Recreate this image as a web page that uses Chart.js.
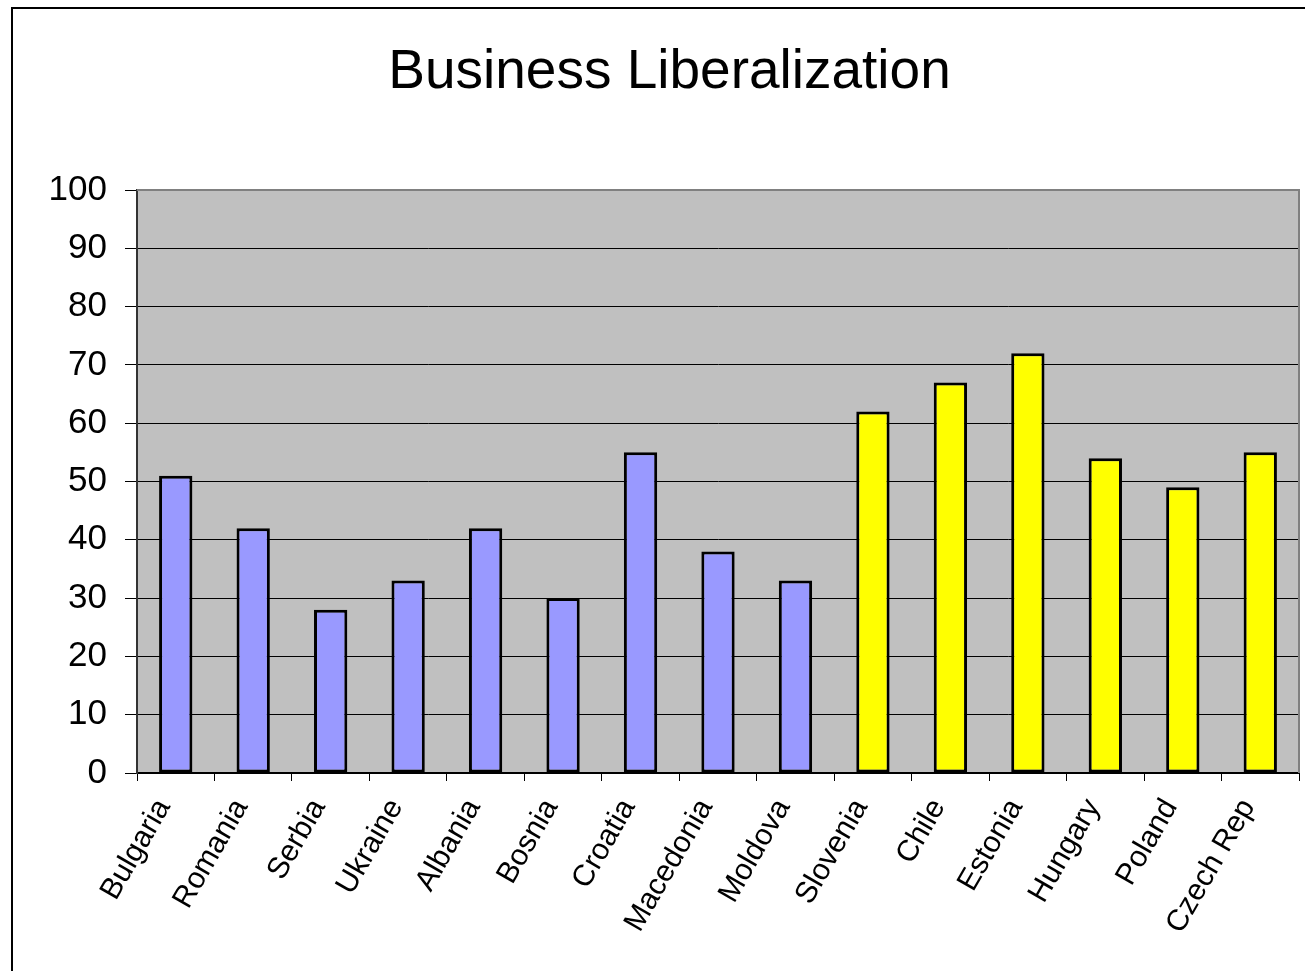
<!DOCTYPE html>
<html>
<head>
<meta charset="utf-8">
<title>Business Liberalization</title>
<script src="https://cdn.jsdelivr.net/npm/chart.js@4.4.1/dist/chart.umd.min.js"></script>
<style>
    html, body { margin: 0; padding: 0; background: #fff; }
    #wrap { width: 1305px; height: 971px; position: relative; }
</style>
</head>
<body>
<div id="wrap"><canvas id="liberalChart" width="1305" height="971"></canvas></div>
<script>
// transition countries (blue) and comparison countries (yellow)
const transitionCountries = ["Bulgaria", "Romania", "Serbia", "Ukraine", "Albania", "Bosnia", "Croatia", "Macedonia", "Moldova"];
const transitionScores = [51, 42, 28, 33, 42, 30, 55, 38, 33];

const comparisonCountries = ["Slovenia", "Chile", "Estonia", "Hungary", "Poland", "Czech Rep"];
const comparisonScores = [62, 67, 72, 54, 49, 55];

const yTicks = [0, 10, 20, 30, 40, 50, 60, 70, 80, 90, 100];

const labels = transitionCountries.concat(comparisonCountries);
const scores = transitionScores.concat(comparisonScores);
const barColors = labels.map((_, i) => i < transitionCountries.length ? "#9999FF" : "#FFFF00");

// gray plot area + outer frame
const plotBackground = {
    id: "plotBackground",
    beforeDraw(chart) {
        const { ctx, chartArea: a } = chart;
        ctx.save();
        ctx.fillStyle = "#fff";
        ctx.fillRect(0, 0, chart.width, chart.height);
        ctx.fillStyle = "#C0C0C0";
        ctx.fillRect(a.left, a.top, a.right - a.left, a.bottom - a.top);
        // frame of the slide
        ctx.strokeStyle = "#000";
        ctx.lineWidth = 2;
        ctx.beginPath();
        ctx.moveTo(12, chart.height);
        ctx.lineTo(12, 8);
        ctx.lineTo(chart.width, 8);
        ctx.stroke();
        ctx.restore();
    },
    afterDatasetsDraw(chart) {
        const { ctx, chartArea: a } = chart;
        ctx.save();
        ctx.strokeStyle = "#808080";
        ctx.lineWidth = 2;
        ctx.beginPath();
        ctx.moveTo(a.left, a.top);
        ctx.lineTo(a.right, a.top);
        ctx.lineTo(a.right, a.bottom);
        ctx.stroke();
        ctx.restore();
    }
};

const ctx = document.getElementById("liberalChart").getContext("2d");

new Chart(ctx, {
    type: "bar",
    data: {
        labels: labels,
        datasets: [{
            label: "Business Liberalization",
            data: scores,
            backgroundColor: barColors,
            borderColor: "#000",
            borderWidth: 3,
            borderSkipped: false,
            barPercentage: 0.43,
            categoryPercentage: 1.0
        }]
    },
    options: {
        responsive: false,
        animation: false,
        devicePixelRatio: 1,
        layout: { padding: { left: 40, right: 6, top: 0, bottom: 0 } },
        plugins: {
            legend: { display: false },
            tooltip: { enabled: false },
            title: {
                display: true,
                text: "Business Liberalization",
                color: "#000",
                font: { family: "'Liberation Sans', Arial, sans-serif", size: 55, weight: "normal" },
                padding: { top: 40, bottom: 84 }
            }
        },
        scales: {
            x: {
                offset: true,
                grid: {
                    offset: true,
                    drawOnChartArea: false,
                    drawTicks: true,
                    tickLength: 8,
                    color: "#000"
                },
                border: { display: true, color: "#000", width: 2 },
                ticks: {
                    color: "#000",
                    font: { family: "'Liberation Sans', Arial, sans-serif", size: 30 },
                    minRotation: 60,
                    maxRotation: 60,
                    padding: 12,
                    labelOffset: -12,
                    autoSkip: false
                },
                afterFit(scale) { scale.height = 198; }
            },
            y: {
                min: 0,
                max: 100,
                afterBuildTicks(scale) { scale.ticks = yTicks.map(v => ({ value: v })); },
                grid: {
                    color: c => c.tick && c.tick.value === 100 ? "#808080" : "#000",
                    tickColor: "#000",
                    lineWidth: 1,
                    tickLength: 12
                },
                border: { display: true, color: "#333", width: 2 },
                ticks: {
                    color: "#000",
                    font: { family: "'Liberation Sans', Arial, sans-serif", size: 35 },
                    padding: 18
                },
                afterFit(scale) { scale.width = 97; }
            }
        }
    },
    plugins: [plotBackground]
});
</script>
</body>
</html>
